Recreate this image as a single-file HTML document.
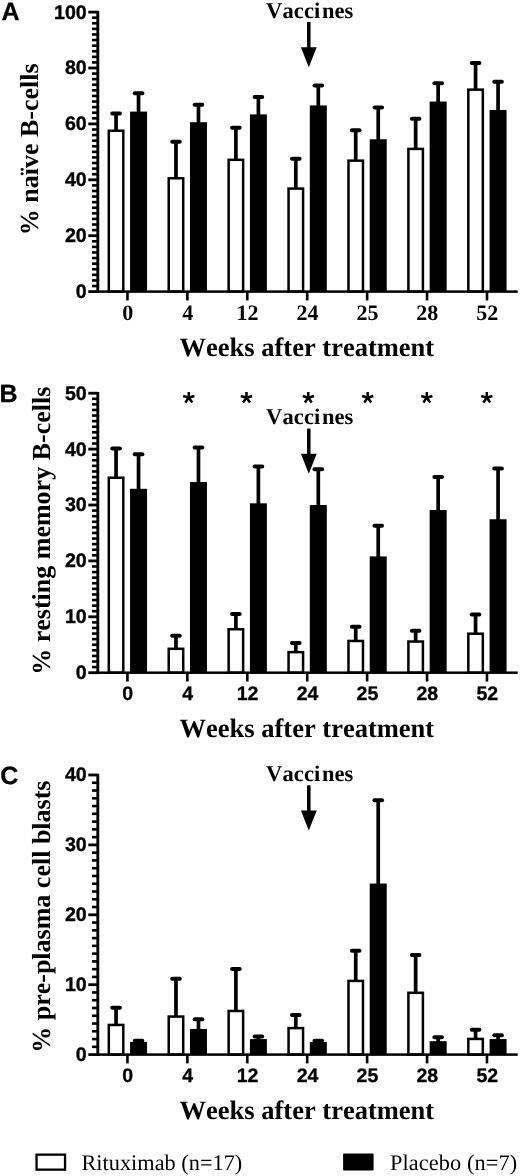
<!DOCTYPE html>
<html><head><meta charset="utf-8"><title>Figure</title>
<style>
html,body{margin:0;padding:0;background:#fff;}
body{width:520px;height:1176px;overflow:hidden;font-family:"Liberation Sans",sans-serif;}
svg{display:block;}
text{fill:#000;font-kerning:none;text-rendering:geometricPrecision;}
#g{filter:blur(0.35px);}
</style></head><body>
<svg width="520" height="1176" viewBox="0 0 520 1176">
<rect x="0" y="0" width="520" height="1176" fill="#fff"/>
<g id="g">
<rect x="114.20" y="113.42" width="3.7" height="17.07" fill="#000"/>
<rect x="110.25" y="111.42" width="11.6" height="4.0" rx="2" fill="#000"/>
<rect x="108.80" y="130.74" width="14.50" height="160.86" fill="#fff" stroke="#000" stroke-width="2.5"/>
<rect x="136.70" y="93.29" width="3.7" height="19.31" fill="#000"/>
<rect x="132.75" y="91.29" width="11.6" height="4.0" rx="2" fill="#000"/>
<rect x="130.05" y="111.60" width="17.0" height="180.00" fill="#000"/>
<rect x="174.12" y="141.65" width="3.7" height="36.36" fill="#000"/>
<rect x="170.17" y="139.65" width="11.6" height="4.0" rx="2" fill="#000"/>
<rect x="168.72" y="178.26" width="14.50" height="113.34" fill="#fff" stroke="#000" stroke-width="2.5"/>
<rect x="196.62" y="104.75" width="3.7" height="18.47" fill="#000"/>
<rect x="192.67" y="102.75" width="11.6" height="4.0" rx="2" fill="#000"/>
<rect x="189.97" y="122.22" width="17.0" height="169.38" fill="#000"/>
<rect x="234.04" y="127.67" width="3.7" height="31.88" fill="#000"/>
<rect x="230.09" y="125.67" width="11.6" height="4.0" rx="2" fill="#000"/>
<rect x="228.64" y="159.81" width="14.50" height="131.79" fill="#fff" stroke="#000" stroke-width="2.5"/>
<rect x="256.54" y="96.93" width="3.7" height="18.47" fill="#000"/>
<rect x="252.59" y="94.93" width="11.6" height="4.0" rx="2" fill="#000"/>
<rect x="249.89" y="114.40" width="17.0" height="177.20" fill="#000"/>
<rect x="293.96" y="158.70" width="3.7" height="29.65" fill="#000"/>
<rect x="290.01" y="156.70" width="11.6" height="4.0" rx="2" fill="#000"/>
<rect x="288.56" y="188.60" width="14.50" height="103.00" fill="#fff" stroke="#000" stroke-width="2.5"/>
<rect x="316.46" y="85.47" width="3.7" height="20.98" fill="#000"/>
<rect x="312.51" y="83.47" width="11.6" height="4.0" rx="2" fill="#000"/>
<rect x="309.81" y="105.45" width="17.0" height="186.15" fill="#000"/>
<rect x="353.88" y="130.19" width="3.7" height="30.21" fill="#000"/>
<rect x="349.93" y="128.19" width="11.6" height="4.0" rx="2" fill="#000"/>
<rect x="348.48" y="160.65" width="14.50" height="130.95" fill="#fff" stroke="#000" stroke-width="2.5"/>
<rect x="376.38" y="107.55" width="3.7" height="32.72" fill="#000"/>
<rect x="372.43" y="105.55" width="11.6" height="4.0" rx="2" fill="#000"/>
<rect x="369.73" y="139.27" width="17.0" height="152.33" fill="#000"/>
<rect x="413.80" y="118.73" width="3.7" height="29.93" fill="#000"/>
<rect x="409.85" y="116.73" width="11.6" height="4.0" rx="2" fill="#000"/>
<rect x="408.40" y="148.91" width="14.50" height="142.69" fill="#fff" stroke="#000" stroke-width="2.5"/>
<rect x="436.30" y="83.23" width="3.7" height="19.31" fill="#000"/>
<rect x="432.35" y="81.23" width="11.6" height="4.0" rx="2" fill="#000"/>
<rect x="429.65" y="101.54" width="17.0" height="190.06" fill="#000"/>
<rect x="473.72" y="63.11" width="3.7" height="26.29" fill="#000"/>
<rect x="469.77" y="61.11" width="11.6" height="4.0" rx="2" fill="#000"/>
<rect x="468.32" y="89.65" width="14.50" height="201.95" fill="#fff" stroke="#000" stroke-width="2.5"/>
<rect x="496.22" y="81.84" width="3.7" height="29.09" fill="#000"/>
<rect x="492.27" y="79.84" width="11.6" height="4.0" rx="2" fill="#000"/>
<rect x="489.57" y="109.93" width="17.0" height="181.67" fill="#000"/>
<rect x="96.35" y="10.90" width="2.9" height="282.00" fill="#000"/>
<rect x="96.35" y="290.35" width="421.35" height="2.5" fill="#000"/>
<rect x="88.3" y="290.20" width="9.50" height="2.8" fill="#000"/>
<text x="86.7" y="298.00" text-anchor="end" font-family='"Liberation Sans", sans-serif' font-weight="700" font-size="19.6" stroke="#000" stroke-width="0.35">0</text>
<rect x="92.0" y="284.71" width="5.80" height="2.6" fill="#000"/>
<rect x="92.0" y="279.12" width="5.80" height="2.6" fill="#000"/>
<rect x="92.0" y="273.53" width="5.80" height="2.6" fill="#000"/>
<rect x="92.0" y="267.94" width="5.80" height="2.6" fill="#000"/>
<rect x="92.0" y="262.35" width="5.80" height="2.6" fill="#000"/>
<rect x="92.0" y="256.76" width="5.80" height="2.6" fill="#000"/>
<rect x="92.0" y="251.17" width="5.80" height="2.6" fill="#000"/>
<rect x="92.0" y="245.58" width="5.80" height="2.6" fill="#000"/>
<rect x="92.0" y="239.99" width="5.80" height="2.6" fill="#000"/>
<rect x="88.3" y="234.30" width="9.50" height="2.8" fill="#000"/>
<text x="86.7" y="242.10" text-anchor="end" font-family='"Liberation Sans", sans-serif' font-weight="700" font-size="19.6" stroke="#000" stroke-width="0.35">20</text>
<rect x="92.0" y="228.81" width="5.80" height="2.6" fill="#000"/>
<rect x="92.0" y="223.22" width="5.80" height="2.6" fill="#000"/>
<rect x="92.0" y="217.63" width="5.80" height="2.6" fill="#000"/>
<rect x="92.0" y="212.04" width="5.80" height="2.6" fill="#000"/>
<rect x="92.0" y="206.45" width="5.80" height="2.6" fill="#000"/>
<rect x="92.0" y="200.86" width="5.80" height="2.6" fill="#000"/>
<rect x="92.0" y="195.27" width="5.80" height="2.6" fill="#000"/>
<rect x="92.0" y="189.68" width="5.80" height="2.6" fill="#000"/>
<rect x="92.0" y="184.09" width="5.80" height="2.6" fill="#000"/>
<rect x="88.3" y="178.40" width="9.50" height="2.8" fill="#000"/>
<text x="86.7" y="186.20" text-anchor="end" font-family='"Liberation Sans", sans-serif' font-weight="700" font-size="19.6" stroke="#000" stroke-width="0.35">40</text>
<rect x="92.0" y="172.91" width="5.80" height="2.6" fill="#000"/>
<rect x="92.0" y="167.32" width="5.80" height="2.6" fill="#000"/>
<rect x="92.0" y="161.73" width="5.80" height="2.6" fill="#000"/>
<rect x="92.0" y="156.14" width="5.80" height="2.6" fill="#000"/>
<rect x="92.0" y="150.55" width="5.80" height="2.6" fill="#000"/>
<rect x="92.0" y="144.96" width="5.80" height="2.6" fill="#000"/>
<rect x="92.0" y="139.37" width="5.80" height="2.6" fill="#000"/>
<rect x="92.0" y="133.78" width="5.80" height="2.6" fill="#000"/>
<rect x="92.0" y="128.19" width="5.80" height="2.6" fill="#000"/>
<rect x="88.3" y="122.50" width="9.50" height="2.8" fill="#000"/>
<text x="86.7" y="130.30" text-anchor="end" font-family='"Liberation Sans", sans-serif' font-weight="700" font-size="19.6" stroke="#000" stroke-width="0.35">60</text>
<rect x="92.0" y="117.01" width="5.80" height="2.6" fill="#000"/>
<rect x="92.0" y="111.42" width="5.80" height="2.6" fill="#000"/>
<rect x="92.0" y="105.83" width="5.80" height="2.6" fill="#000"/>
<rect x="92.0" y="100.24" width="5.80" height="2.6" fill="#000"/>
<rect x="92.0" y="94.65" width="5.80" height="2.6" fill="#000"/>
<rect x="92.0" y="89.06" width="5.80" height="2.6" fill="#000"/>
<rect x="92.0" y="83.47" width="5.80" height="2.6" fill="#000"/>
<rect x="92.0" y="77.88" width="5.80" height="2.6" fill="#000"/>
<rect x="92.0" y="72.29" width="5.80" height="2.6" fill="#000"/>
<rect x="88.3" y="66.60" width="9.50" height="2.8" fill="#000"/>
<text x="86.7" y="74.40" text-anchor="end" font-family='"Liberation Sans", sans-serif' font-weight="700" font-size="19.6" stroke="#000" stroke-width="0.35">80</text>
<rect x="92.0" y="61.11" width="5.80" height="2.6" fill="#000"/>
<rect x="92.0" y="55.52" width="5.80" height="2.6" fill="#000"/>
<rect x="92.0" y="49.93" width="5.80" height="2.6" fill="#000"/>
<rect x="92.0" y="44.34" width="5.80" height="2.6" fill="#000"/>
<rect x="92.0" y="38.75" width="5.80" height="2.6" fill="#000"/>
<rect x="92.0" y="33.16" width="5.80" height="2.6" fill="#000"/>
<rect x="92.0" y="27.57" width="5.80" height="2.6" fill="#000"/>
<rect x="92.0" y="21.98" width="5.80" height="2.6" fill="#000"/>
<rect x="92.0" y="16.39" width="5.80" height="2.6" fill="#000"/>
<rect x="88.3" y="10.70" width="9.50" height="2.8" fill="#000"/>
<text x="86.7" y="18.50" text-anchor="end" font-family='"Liberation Sans", sans-serif' font-weight="700" font-size="19.6" stroke="#000" stroke-width="0.35">100</text>
<rect x="126.15" y="291.60" width="2.6" height="8.8" fill="#000"/>
<text x="127.75" y="319.50" text-anchor="middle" font-family='"Liberation Serif", serif' font-weight="700" font-size="22">0</text>
<rect x="186.07" y="291.60" width="2.6" height="8.8" fill="#000"/>
<text x="187.67" y="319.50" text-anchor="middle" font-family='"Liberation Serif", serif' font-weight="700" font-size="22">4</text>
<rect x="245.99" y="291.60" width="2.6" height="8.8" fill="#000"/>
<text x="247.59" y="319.50" text-anchor="middle" font-family='"Liberation Serif", serif' font-weight="700" font-size="22">12</text>
<rect x="305.91" y="291.60" width="2.6" height="8.8" fill="#000"/>
<text x="307.51" y="319.50" text-anchor="middle" font-family='"Liberation Serif", serif' font-weight="700" font-size="22">24</text>
<rect x="365.83" y="291.60" width="2.6" height="8.8" fill="#000"/>
<text x="367.43" y="319.50" text-anchor="middle" font-family='"Liberation Serif", serif' font-weight="700" font-size="22">25</text>
<rect x="425.75" y="291.60" width="2.6" height="8.8" fill="#000"/>
<text x="427.35" y="319.50" text-anchor="middle" font-family='"Liberation Serif", serif' font-weight="700" font-size="22">28</text>
<rect x="485.67" y="291.60" width="2.6" height="8.8" fill="#000"/>
<text x="487.27" y="319.50" text-anchor="middle" font-family='"Liberation Serif", serif' font-weight="700" font-size="22">52</text>
<text x="179.6" y="355.50" font-family='"Liberation Serif", serif' font-weight="700" font-size="26.5">Weeks after treatment</text>
<text transform="translate(37.7,235.2) rotate(-90)" font-family='"Liberation Serif", serif' font-weight="700" font-size="26">% naïve B-cells</text>
<text x="1.6" y="19.7" font-family='"Liberation Sans", sans-serif' font-weight="700" font-size="25" stroke="#000" stroke-width="0.3">A</text>
<text y="17.60" font-family='"Liberation Serif", serif' font-weight="700" font-size="22.5"><tspan x="266.0" letter-spacing="0.15">Vacci</tspan><tspan x="321.9">nes</tspan></text>
<rect x="307.05" y="22.00" width="3.5" height="26.5" fill="#000"/>
<path d="M300.90 47.20 L316.70 47.20 L308.80 67.20 Z" fill="#000"/>
<rect x="114.20" y="448.54" width="3.7" height="28.95" fill="#000"/>
<rect x="110.25" y="446.54" width="11.6" height="4.0" rx="2" fill="#000"/>
<rect x="108.80" y="477.74" width="14.50" height="194.96" fill="#fff" stroke="#000" stroke-width="2.5"/>
<rect x="136.70" y="454.13" width="3.7" height="35.66" fill="#000"/>
<rect x="132.75" y="452.13" width="11.6" height="4.0" rx="2" fill="#000"/>
<rect x="130.05" y="488.79" width="17.0" height="183.91" fill="#000"/>
<rect x="174.12" y="635.81" width="3.7" height="12.74" fill="#000"/>
<rect x="170.17" y="633.81" width="11.6" height="4.0" rx="2" fill="#000"/>
<rect x="168.72" y="648.80" width="14.50" height="23.90" fill="#fff" stroke="#000" stroke-width="2.5"/>
<rect x="196.62" y="447.42" width="3.7" height="35.66" fill="#000"/>
<rect x="192.67" y="445.42" width="11.6" height="4.0" rx="2" fill="#000"/>
<rect x="189.97" y="482.08" width="17.0" height="190.62" fill="#000"/>
<rect x="234.04" y="614.00" width="3.7" height="14.98" fill="#000"/>
<rect x="230.09" y="612.00" width="11.6" height="4.0" rx="2" fill="#000"/>
<rect x="228.64" y="629.23" width="14.50" height="43.47" fill="#fff" stroke="#000" stroke-width="2.5"/>
<rect x="256.54" y="466.43" width="3.7" height="37.89" fill="#000"/>
<rect x="252.59" y="464.43" width="11.6" height="4.0" rx="2" fill="#000"/>
<rect x="249.89" y="503.32" width="17.0" height="169.38" fill="#000"/>
<rect x="293.96" y="643.07" width="3.7" height="8.83" fill="#000"/>
<rect x="290.01" y="641.07" width="11.6" height="4.0" rx="2" fill="#000"/>
<rect x="288.56" y="652.15" width="14.50" height="20.55" fill="#fff" stroke="#000" stroke-width="2.5"/>
<rect x="316.46" y="469.22" width="3.7" height="36.78" fill="#000"/>
<rect x="312.51" y="467.22" width="11.6" height="4.0" rx="2" fill="#000"/>
<rect x="309.81" y="505.00" width="17.0" height="167.70" fill="#000"/>
<rect x="353.88" y="626.86" width="3.7" height="13.86" fill="#000"/>
<rect x="349.93" y="624.86" width="11.6" height="4.0" rx="2" fill="#000"/>
<rect x="348.48" y="640.97" width="14.50" height="31.73" fill="#fff" stroke="#000" stroke-width="2.5"/>
<rect x="376.38" y="525.68" width="3.7" height="31.75" fill="#000"/>
<rect x="372.43" y="523.68" width="11.6" height="4.0" rx="2" fill="#000"/>
<rect x="369.73" y="556.43" width="17.0" height="116.27" fill="#000"/>
<rect x="413.80" y="630.78" width="3.7" height="10.50" fill="#000"/>
<rect x="409.85" y="628.78" width="11.6" height="4.0" rx="2" fill="#000"/>
<rect x="408.40" y="641.53" width="14.50" height="31.17" fill="#fff" stroke="#000" stroke-width="2.5"/>
<rect x="436.30" y="477.05" width="3.7" height="33.98" fill="#000"/>
<rect x="432.35" y="475.05" width="11.6" height="4.0" rx="2" fill="#000"/>
<rect x="429.65" y="510.03" width="17.0" height="162.67" fill="#000"/>
<rect x="473.72" y="614.56" width="3.7" height="18.89" fill="#000"/>
<rect x="469.77" y="612.56" width="11.6" height="4.0" rx="2" fill="#000"/>
<rect x="468.32" y="633.70" width="14.50" height="39.00" fill="#fff" stroke="#000" stroke-width="2.5"/>
<rect x="496.22" y="468.39" width="3.7" height="51.87" fill="#000"/>
<rect x="492.27" y="466.39" width="11.6" height="4.0" rx="2" fill="#000"/>
<rect x="489.57" y="519.25" width="17.0" height="153.45" fill="#000"/>
<rect x="96.35" y="392.00" width="2.9" height="282.00" fill="#000"/>
<rect x="96.35" y="671.45" width="421.35" height="2.5" fill="#000"/>
<rect x="88.3" y="671.30" width="9.50" height="2.8" fill="#000"/>
<text x="86.7" y="679.10" text-anchor="end" font-family='"Liberation Sans", sans-serif' font-weight="700" font-size="19.6" stroke="#000" stroke-width="0.35">0</text>
<rect x="92.0" y="665.81" width="5.80" height="2.6" fill="#000"/>
<rect x="92.0" y="660.22" width="5.80" height="2.6" fill="#000"/>
<rect x="92.0" y="654.63" width="5.80" height="2.6" fill="#000"/>
<rect x="92.0" y="649.04" width="5.80" height="2.6" fill="#000"/>
<rect x="92.0" y="643.45" width="5.80" height="2.6" fill="#000"/>
<rect x="92.0" y="637.86" width="5.80" height="2.6" fill="#000"/>
<rect x="92.0" y="632.27" width="5.80" height="2.6" fill="#000"/>
<rect x="92.0" y="626.68" width="5.80" height="2.6" fill="#000"/>
<rect x="92.0" y="621.09" width="5.80" height="2.6" fill="#000"/>
<rect x="88.3" y="615.40" width="9.50" height="2.8" fill="#000"/>
<text x="86.7" y="623.20" text-anchor="end" font-family='"Liberation Sans", sans-serif' font-weight="700" font-size="19.6" stroke="#000" stroke-width="0.35">10</text>
<rect x="92.0" y="609.91" width="5.80" height="2.6" fill="#000"/>
<rect x="92.0" y="604.32" width="5.80" height="2.6" fill="#000"/>
<rect x="92.0" y="598.73" width="5.80" height="2.6" fill="#000"/>
<rect x="92.0" y="593.14" width="5.80" height="2.6" fill="#000"/>
<rect x="92.0" y="587.55" width="5.80" height="2.6" fill="#000"/>
<rect x="92.0" y="581.96" width="5.80" height="2.6" fill="#000"/>
<rect x="92.0" y="576.37" width="5.80" height="2.6" fill="#000"/>
<rect x="92.0" y="570.78" width="5.80" height="2.6" fill="#000"/>
<rect x="92.0" y="565.19" width="5.80" height="2.6" fill="#000"/>
<rect x="88.3" y="559.50" width="9.50" height="2.8" fill="#000"/>
<text x="86.7" y="567.30" text-anchor="end" font-family='"Liberation Sans", sans-serif' font-weight="700" font-size="19.6" stroke="#000" stroke-width="0.35">20</text>
<rect x="92.0" y="554.01" width="5.80" height="2.6" fill="#000"/>
<rect x="92.0" y="548.42" width="5.80" height="2.6" fill="#000"/>
<rect x="92.0" y="542.83" width="5.80" height="2.6" fill="#000"/>
<rect x="92.0" y="537.24" width="5.80" height="2.6" fill="#000"/>
<rect x="92.0" y="531.65" width="5.80" height="2.6" fill="#000"/>
<rect x="92.0" y="526.06" width="5.80" height="2.6" fill="#000"/>
<rect x="92.0" y="520.47" width="5.80" height="2.6" fill="#000"/>
<rect x="92.0" y="514.88" width="5.80" height="2.6" fill="#000"/>
<rect x="92.0" y="509.29" width="5.80" height="2.6" fill="#000"/>
<rect x="88.3" y="503.60" width="9.50" height="2.8" fill="#000"/>
<text x="86.7" y="511.40" text-anchor="end" font-family='"Liberation Sans", sans-serif' font-weight="700" font-size="19.6" stroke="#000" stroke-width="0.35">30</text>
<rect x="92.0" y="498.11" width="5.80" height="2.6" fill="#000"/>
<rect x="92.0" y="492.52" width="5.80" height="2.6" fill="#000"/>
<rect x="92.0" y="486.93" width="5.80" height="2.6" fill="#000"/>
<rect x="92.0" y="481.34" width="5.80" height="2.6" fill="#000"/>
<rect x="92.0" y="475.75" width="5.80" height="2.6" fill="#000"/>
<rect x="92.0" y="470.16" width="5.80" height="2.6" fill="#000"/>
<rect x="92.0" y="464.57" width="5.80" height="2.6" fill="#000"/>
<rect x="92.0" y="458.98" width="5.80" height="2.6" fill="#000"/>
<rect x="92.0" y="453.39" width="5.80" height="2.6" fill="#000"/>
<rect x="88.3" y="447.70" width="9.50" height="2.8" fill="#000"/>
<text x="86.7" y="455.50" text-anchor="end" font-family='"Liberation Sans", sans-serif' font-weight="700" font-size="19.6" stroke="#000" stroke-width="0.35">40</text>
<rect x="92.0" y="442.21" width="5.80" height="2.6" fill="#000"/>
<rect x="92.0" y="436.62" width="5.80" height="2.6" fill="#000"/>
<rect x="92.0" y="431.03" width="5.80" height="2.6" fill="#000"/>
<rect x="92.0" y="425.44" width="5.80" height="2.6" fill="#000"/>
<rect x="92.0" y="419.85" width="5.80" height="2.6" fill="#000"/>
<rect x="92.0" y="414.26" width="5.80" height="2.6" fill="#000"/>
<rect x="92.0" y="408.67" width="5.80" height="2.6" fill="#000"/>
<rect x="92.0" y="403.08" width="5.80" height="2.6" fill="#000"/>
<rect x="92.0" y="397.49" width="5.80" height="2.6" fill="#000"/>
<rect x="88.3" y="391.80" width="9.50" height="2.8" fill="#000"/>
<text x="86.7" y="399.60" text-anchor="end" font-family='"Liberation Sans", sans-serif' font-weight="700" font-size="19.6" stroke="#000" stroke-width="0.35">50</text>
<rect x="126.15" y="672.70" width="2.6" height="8.8" fill="#000"/>
<text x="127.75" y="699.90" text-anchor="middle" font-family='"Liberation Sans", sans-serif' font-weight="700" font-size="19.5" stroke="#000" stroke-width="0.3">0</text>
<rect x="186.07" y="672.70" width="2.6" height="8.8" fill="#000"/>
<text x="187.67" y="699.90" text-anchor="middle" font-family='"Liberation Sans", sans-serif' font-weight="700" font-size="19.5" stroke="#000" stroke-width="0.3">4</text>
<rect x="245.99" y="672.70" width="2.6" height="8.8" fill="#000"/>
<text x="247.59" y="699.90" text-anchor="middle" font-family='"Liberation Sans", sans-serif' font-weight="700" font-size="19.5" stroke="#000" stroke-width="0.3">12</text>
<rect x="305.91" y="672.70" width="2.6" height="8.8" fill="#000"/>
<text x="307.51" y="699.90" text-anchor="middle" font-family='"Liberation Sans", sans-serif' font-weight="700" font-size="19.5" stroke="#000" stroke-width="0.3">24</text>
<rect x="365.83" y="672.70" width="2.6" height="8.8" fill="#000"/>
<text x="367.43" y="699.90" text-anchor="middle" font-family='"Liberation Sans", sans-serif' font-weight="700" font-size="19.5" stroke="#000" stroke-width="0.3">25</text>
<rect x="425.75" y="672.70" width="2.6" height="8.8" fill="#000"/>
<text x="427.35" y="699.90" text-anchor="middle" font-family='"Liberation Sans", sans-serif' font-weight="700" font-size="19.5" stroke="#000" stroke-width="0.3">28</text>
<rect x="485.67" y="672.70" width="2.6" height="8.8" fill="#000"/>
<text x="487.27" y="699.90" text-anchor="middle" font-family='"Liberation Sans", sans-serif' font-weight="700" font-size="19.5" stroke="#000" stroke-width="0.3">52</text>
<text x="179.6" y="736.60" font-family='"Liberation Serif", serif' font-weight="700" font-size="26.5">Weeks after treatment</text>
<text transform="translate(49.5,674.8) rotate(-90)" font-family='"Liberation Serif", serif' font-weight="700" font-size="26">% resting memory B-cells</text>
<text x="-0.6" y="401.8" font-family='"Liberation Sans", sans-serif' font-weight="700" font-size="25" stroke="#000" stroke-width="0.3">B</text>
<text y="424.20" font-family='"Liberation Serif", serif' font-weight="700" font-size="22.5"><tspan x="266.0" letter-spacing="0.15">Vacci</tspan><tspan x="321.9">nes</tspan></text>
<rect x="307.05" y="428.60" width="3.5" height="26.5" fill="#000"/>
<path d="M300.90 453.80 L316.70 453.80 L308.80 473.80 Z" fill="#000"/>
<path d="M188.80 397.80 L188.80 391.90 M188.80 397.80 L194.41 395.98 M188.80 397.80 L183.19 395.98 M188.80 397.80 L192.27 402.57 M188.80 397.80 L185.33 402.57 " stroke="#000" stroke-width="2.5" fill="none" stroke-linecap="butt"/>
<path d="M246.50 397.80 L246.50 391.90 M246.50 397.80 L252.11 395.98 M246.50 397.80 L240.89 395.98 M246.50 397.80 L249.97 402.57 M246.50 397.80 L243.03 402.57 " stroke="#000" stroke-width="2.5" fill="none" stroke-linecap="butt"/>
<path d="M308.30 397.80 L308.30 391.90 M308.30 397.80 L313.91 395.98 M308.30 397.80 L302.69 395.98 M308.30 397.80 L311.77 402.57 M308.30 397.80 L304.83 402.57 " stroke="#000" stroke-width="2.5" fill="none" stroke-linecap="butt"/>
<path d="M367.70 397.80 L367.70 391.90 M367.70 397.80 L373.31 395.98 M367.70 397.80 L362.09 395.98 M367.70 397.80 L371.17 402.57 M367.70 397.80 L364.23 402.57 " stroke="#000" stroke-width="2.5" fill="none" stroke-linecap="butt"/>
<path d="M426.80 397.80 L426.80 391.90 M426.80 397.80 L432.41 395.98 M426.80 397.80 L421.19 395.98 M426.80 397.80 L430.27 402.57 M426.80 397.80 L423.33 402.57 " stroke="#000" stroke-width="2.5" fill="none" stroke-linecap="butt"/>
<path d="M486.80 397.80 L486.80 391.90 M486.80 397.80 L492.41 395.98 M486.80 397.80 L481.19 395.98 M486.80 397.80 L490.27 402.57 M486.80 397.80 L483.33 402.57 " stroke="#000" stroke-width="2.5" fill="none" stroke-linecap="butt"/>
<rect x="114.20" y="1007.77" width="3.7" height="16.94" fill="#000"/>
<rect x="110.25" y="1005.77" width="11.6" height="4.0" rx="2" fill="#000"/>
<rect x="108.80" y="1024.95" width="14.50" height="29.65" fill="#fff" stroke="#000" stroke-width="2.5"/>
<rect x="136.70" y="1040.76" width="3.7" height="2.12" fill="#000"/>
<rect x="132.75" y="1038.76" width="11.6" height="4.0" rx="2" fill="#000"/>
<rect x="130.05" y="1041.88" width="17.0" height="12.72" fill="#000"/>
<rect x="174.12" y="978.76" width="3.7" height="37.56" fill="#000"/>
<rect x="170.17" y="976.76" width="11.6" height="4.0" rx="2" fill="#000"/>
<rect x="168.72" y="1016.57" width="14.50" height="38.03" fill="#fff" stroke="#000" stroke-width="2.5"/>
<rect x="196.62" y="1019.37" width="3.7" height="10.58" fill="#000"/>
<rect x="192.67" y="1017.37" width="11.6" height="4.0" rx="2" fill="#000"/>
<rect x="189.97" y="1028.95" width="17.0" height="25.65" fill="#000"/>
<rect x="234.04" y="968.97" width="3.7" height="41.75" fill="#000"/>
<rect x="230.09" y="966.97" width="11.6" height="4.0" rx="2" fill="#000"/>
<rect x="228.64" y="1010.97" width="14.50" height="43.63" fill="#fff" stroke="#000" stroke-width="2.5"/>
<rect x="256.54" y="1036.57" width="3.7" height="3.52" fill="#000"/>
<rect x="252.59" y="1034.57" width="11.6" height="4.0" rx="2" fill="#000"/>
<rect x="249.89" y="1039.08" width="17.0" height="15.52" fill="#000"/>
<rect x="293.96" y="1015.11" width="3.7" height="12.74" fill="#000"/>
<rect x="290.01" y="1013.11" width="11.6" height="4.0" rx="2" fill="#000"/>
<rect x="288.56" y="1028.10" width="14.50" height="26.50" fill="#fff" stroke="#000" stroke-width="2.5"/>
<rect x="316.46" y="1040.76" width="3.7" height="2.12" fill="#000"/>
<rect x="312.51" y="1038.76" width="11.6" height="4.0" rx="2" fill="#000"/>
<rect x="309.81" y="1041.88" width="17.0" height="12.72" fill="#000"/>
<rect x="353.88" y="950.80" width="3.7" height="29.87" fill="#000"/>
<rect x="349.93" y="948.80" width="11.6" height="4.0" rx="2" fill="#000"/>
<rect x="348.48" y="980.92" width="14.50" height="73.68" fill="#fff" stroke="#000" stroke-width="2.5"/>
<rect x="376.38" y="800.30" width="3.7" height="84.25" fill="#000"/>
<rect x="372.43" y="798.30" width="11.6" height="4.0" rx="2" fill="#000"/>
<rect x="369.73" y="883.55" width="17.0" height="171.05" fill="#000"/>
<rect x="413.80" y="954.99" width="3.7" height="37.56" fill="#000"/>
<rect x="409.85" y="952.99" width="11.6" height="4.0" rx="2" fill="#000"/>
<rect x="408.40" y="992.80" width="14.50" height="61.80" fill="#fff" stroke="#000" stroke-width="2.5"/>
<rect x="436.30" y="1037.26" width="3.7" height="4.91" fill="#000"/>
<rect x="432.35" y="1035.26" width="11.6" height="4.0" rx="2" fill="#000"/>
<rect x="429.65" y="1041.18" width="17.0" height="13.42" fill="#000"/>
<rect x="473.72" y="1029.79" width="3.7" height="8.90" fill="#000"/>
<rect x="469.77" y="1027.79" width="11.6" height="4.0" rx="2" fill="#000"/>
<rect x="468.32" y="1038.93" width="14.50" height="15.67" fill="#fff" stroke="#000" stroke-width="2.5"/>
<rect x="496.22" y="1035.17" width="3.7" height="4.91" fill="#000"/>
<rect x="492.27" y="1033.17" width="11.6" height="4.0" rx="2" fill="#000"/>
<rect x="489.57" y="1039.08" width="17.0" height="15.52" fill="#000"/>
<rect x="96.35" y="773.80" width="2.9" height="282.10" fill="#000"/>
<rect x="96.35" y="1053.35" width="421.35" height="2.5" fill="#000"/>
<rect x="88.3" y="1053.20" width="9.50" height="2.8" fill="#000"/>
<text x="86.7" y="1061.00" text-anchor="end" font-family='"Liberation Sans", sans-serif' font-weight="700" font-size="19.6" stroke="#000" stroke-width="0.35">0</text>
<rect x="92.0" y="1045.53" width="5.80" height="2.6" fill="#000"/>
<rect x="92.0" y="1037.77" width="5.80" height="2.6" fill="#000"/>
<rect x="92.0" y="1030.00" width="5.80" height="2.6" fill="#000"/>
<rect x="92.0" y="1022.23" width="5.80" height="2.6" fill="#000"/>
<rect x="92.0" y="1014.47" width="5.80" height="2.6" fill="#000"/>
<rect x="92.0" y="1006.70" width="5.80" height="2.6" fill="#000"/>
<rect x="92.0" y="998.93" width="5.80" height="2.6" fill="#000"/>
<rect x="92.0" y="991.17" width="5.80" height="2.6" fill="#000"/>
<rect x="88.3" y="983.30" width="9.50" height="2.8" fill="#000"/>
<text x="86.7" y="991.10" text-anchor="end" font-family='"Liberation Sans", sans-serif' font-weight="700" font-size="19.6" stroke="#000" stroke-width="0.35">10</text>
<rect x="92.0" y="975.63" width="5.80" height="2.6" fill="#000"/>
<rect x="92.0" y="967.87" width="5.80" height="2.6" fill="#000"/>
<rect x="92.0" y="960.10" width="5.80" height="2.6" fill="#000"/>
<rect x="92.0" y="952.33" width="5.80" height="2.6" fill="#000"/>
<rect x="92.0" y="944.57" width="5.80" height="2.6" fill="#000"/>
<rect x="92.0" y="936.80" width="5.80" height="2.6" fill="#000"/>
<rect x="92.0" y="929.03" width="5.80" height="2.6" fill="#000"/>
<rect x="92.0" y="921.27" width="5.80" height="2.6" fill="#000"/>
<rect x="88.3" y="913.40" width="9.50" height="2.8" fill="#000"/>
<text x="86.7" y="921.20" text-anchor="end" font-family='"Liberation Sans", sans-serif' font-weight="700" font-size="19.6" stroke="#000" stroke-width="0.35">20</text>
<rect x="92.0" y="905.73" width="5.80" height="2.6" fill="#000"/>
<rect x="92.0" y="897.97" width="5.80" height="2.6" fill="#000"/>
<rect x="92.0" y="890.20" width="5.80" height="2.6" fill="#000"/>
<rect x="92.0" y="882.43" width="5.80" height="2.6" fill="#000"/>
<rect x="92.0" y="874.67" width="5.80" height="2.6" fill="#000"/>
<rect x="92.0" y="866.90" width="5.80" height="2.6" fill="#000"/>
<rect x="92.0" y="859.13" width="5.80" height="2.6" fill="#000"/>
<rect x="92.0" y="851.37" width="5.80" height="2.6" fill="#000"/>
<rect x="88.3" y="843.50" width="9.50" height="2.8" fill="#000"/>
<text x="86.7" y="851.30" text-anchor="end" font-family='"Liberation Sans", sans-serif' font-weight="700" font-size="19.6" stroke="#000" stroke-width="0.35">30</text>
<rect x="92.0" y="835.83" width="5.80" height="2.6" fill="#000"/>
<rect x="92.0" y="828.07" width="5.80" height="2.6" fill="#000"/>
<rect x="92.0" y="820.30" width="5.80" height="2.6" fill="#000"/>
<rect x="92.0" y="812.53" width="5.80" height="2.6" fill="#000"/>
<rect x="92.0" y="804.77" width="5.80" height="2.6" fill="#000"/>
<rect x="92.0" y="797.00" width="5.80" height="2.6" fill="#000"/>
<rect x="92.0" y="789.23" width="5.80" height="2.6" fill="#000"/>
<rect x="92.0" y="781.47" width="5.80" height="2.6" fill="#000"/>
<rect x="88.3" y="773.60" width="9.50" height="2.8" fill="#000"/>
<text x="86.7" y="781.40" text-anchor="end" font-family='"Liberation Sans", sans-serif' font-weight="700" font-size="19.6" stroke="#000" stroke-width="0.35">40</text>
<rect x="126.15" y="1054.60" width="2.6" height="8.8" fill="#000"/>
<text x="127.75" y="1081.80" text-anchor="middle" font-family='"Liberation Sans", sans-serif' font-weight="700" font-size="19.5" stroke="#000" stroke-width="0.3">0</text>
<rect x="186.07" y="1054.60" width="2.6" height="8.8" fill="#000"/>
<text x="187.67" y="1081.80" text-anchor="middle" font-family='"Liberation Sans", sans-serif' font-weight="700" font-size="19.5" stroke="#000" stroke-width="0.3">4</text>
<rect x="245.99" y="1054.60" width="2.6" height="8.8" fill="#000"/>
<text x="247.59" y="1081.80" text-anchor="middle" font-family='"Liberation Sans", sans-serif' font-weight="700" font-size="19.5" stroke="#000" stroke-width="0.3">12</text>
<rect x="305.91" y="1054.60" width="2.6" height="8.8" fill="#000"/>
<text x="307.51" y="1081.80" text-anchor="middle" font-family='"Liberation Sans", sans-serif' font-weight="700" font-size="19.5" stroke="#000" stroke-width="0.3">24</text>
<rect x="365.83" y="1054.60" width="2.6" height="8.8" fill="#000"/>
<text x="367.43" y="1081.80" text-anchor="middle" font-family='"Liberation Sans", sans-serif' font-weight="700" font-size="19.5" stroke="#000" stroke-width="0.3">25</text>
<rect x="425.75" y="1054.60" width="2.6" height="8.8" fill="#000"/>
<text x="427.35" y="1081.80" text-anchor="middle" font-family='"Liberation Sans", sans-serif' font-weight="700" font-size="19.5" stroke="#000" stroke-width="0.3">28</text>
<rect x="485.67" y="1054.60" width="2.6" height="8.8" fill="#000"/>
<text x="487.27" y="1081.80" text-anchor="middle" font-family='"Liberation Sans", sans-serif' font-weight="700" font-size="19.5" stroke="#000" stroke-width="0.3">52</text>
<text x="179.6" y="1118.50" font-family='"Liberation Serif", serif' font-weight="700" font-size="26.5">Weeks after treatment</text>
<text transform="translate(49.5,1052.8) rotate(-90)" font-family='"Liberation Serif", serif' font-weight="700" font-size="26">% pre-plasma cell blasts</text>
<text x="0.2" y="783.6" font-family='"Liberation Sans", sans-serif' font-weight="700" font-size="25" stroke="#000" stroke-width="0.3">C</text>
<text y="780.90" font-family='"Liberation Serif", serif' font-weight="700" font-size="22.5"><tspan x="266.0" letter-spacing="0.15">Vacci</tspan><tspan x="321.9">nes</tspan></text>
<rect x="307.05" y="785.30" width="3.5" height="26.5" fill="#000"/>
<path d="M300.90 810.50 L316.70 810.50 L308.80 830.50 Z" fill="#000"/>
<rect x="36.55" y="1154.65" width="28.5" height="15.0" fill="#fff" stroke="#000" stroke-width="2.3"/>
<text x="81.4" y="1169.7" textLength="160.9" lengthAdjust="spacing" font-family='"Liberation Serif", serif' font-size="22.3">Rituximab (n=17)</text>
<rect x="343.1" y="1153.6" width="30.5" height="16.9" rx="0.8" fill="#000"/>
<text x="390.0" y="1169.7" textLength="127.2" lengthAdjust="spacing" font-family='"Liberation Serif", serif' font-size="22.3">Placebo (n=7)</text>
</g>
</svg>
</body></html>
